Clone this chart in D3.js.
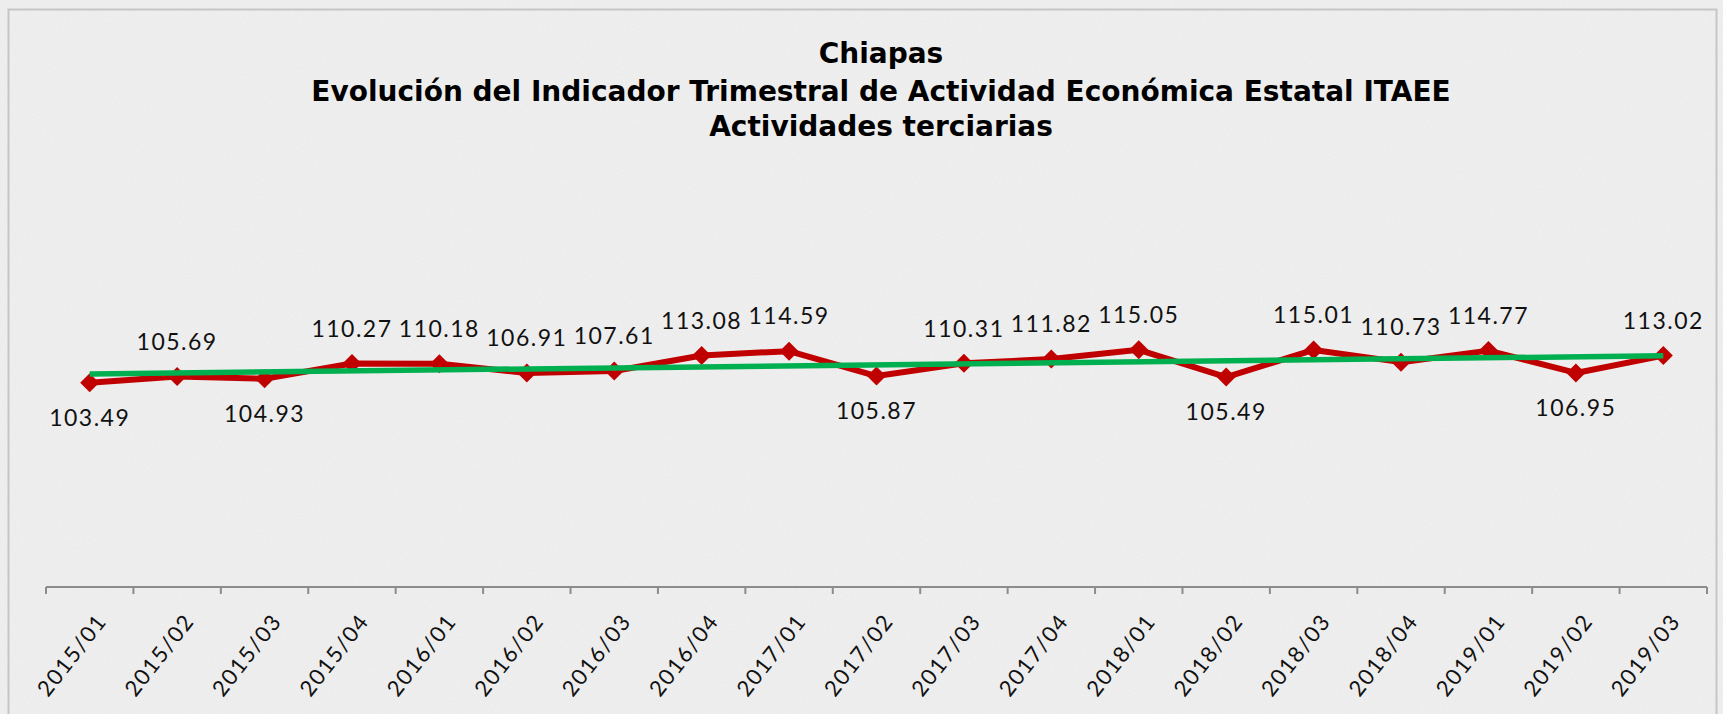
<!DOCTYPE html>
<html>
<head>
<meta charset="utf-8">
<script src="https://cdn.jsdelivr.net/npm/d3@7"></script>
<style>
  html, body { margin: 0; padding: 0; background: #efefef; }
  svg { display: block; }
</style>
</head>
<body>
<svg id="chart" width="1723" height="714"></svg>
<script>
// ---- data ----
const titleLines = [
  "Chiapas",
  "Evolución del Indicador Trimestral de Actividad Económica Estatal ITAEE",
  "Actividades terciarias"
];
const categories = ["2015/01","2015/02","2015/03","2015/04","2016/01","2016/02","2016/03","2016/04",
  "2017/01","2017/02","2017/03","2017/04","2018/01","2018/02","2018/03","2018/04",
  "2019/01","2019/02","2019/03"];
const values = [103.49,105.69,104.93,110.27,110.18,106.91,107.61,113.08,114.59,105.87,
  110.31,111.82,115.05,105.49,115.01,110.73,114.77,106.95,113.02];
const labelPositions = ["below","above","below","above","above","above","above","above",
  "above","below","above","above","above","below","above","above","above","below","above"];
const yDomain = [32, 150];

// ---- setup ----
const svg = d3.select("#chart");
const W = 1723, H = 714;

// textured background
const defs = svg.append("defs");
const f = defs.append("filter").attr("id","noise").attr("x",0).attr("y",0).attr("width","100%").attr("height","100%");
f.append("feTurbulence").attr("type","fractalNoise").attr("baseFrequency",0.9).attr("numOctaves",2).attr("seed",3).attr("result","n");
f.append("feColorMatrix").attr("type","matrix")
  .attr("values","0 0 0 0 0  0 0 0 0 0  0 0 0 0 0  0 0 0 0.09 0").attr("in","n").attr("result","a");
f.append("feComposite").attr("in","a").attr("in2","SourceGraphic").attr("operator","over");

svg.append("rect").attr("width",W).attr("height",H).attr("fill","#efefef");
svg.append("rect").attr("width",W).attr("height",H).attr("fill","#f2f2f2").attr("filter","url(#noise)");
svg.append("rect").attr("x",8.5).attr("y",9.5).attr("width",1708).attr("height",720)
  .attr("fill","none").attr("stroke","#c6c6c6").attr("stroke-width",2);

// title
svg.append("g").selectAll("text").data(titleLines).join("text")
  .attr("x", 881)
  .attr("y", (d,i) => [63,101,136][i])
  .attr("text-anchor","middle")
  .attr("font-family","'DejaVu Sans', sans-serif")
  .attr("font-weight",700)
  .attr("font-size",28)
  .attr("fill","#000")
  .text(d => d);

// scales
const x = d3.scaleBand().domain(categories).range([46, 1707]).padding(0);
const y = d3.scaleLinear().domain(yDomain).range([587, 250]);
const cx = d => x(d) + x.bandwidth()/2;

// axis
const axisG = svg.append("g");
axisG.append("line").attr("x1", x.range()[0]).attr("x2", x.range()[1])
  .attr("y1", y(yDomain[0])).attr("y2", y(yDomain[0]))
  .attr("stroke","#8c8c8c").attr("stroke-width",2);
const tickXs = categories.map(c => x(c)).concat([x.range()[1]]);
axisG.selectAll("line.tick").data(tickXs).join("line").attr("class","tick")
  .attr("x1", d => d).attr("x2", d => d)
  .attr("y1", y(yDomain[0])).attr("y2", y(yDomain[0]) + 7)
  .attr("stroke","#8c8c8c").attr("stroke-width",2);
axisG.selectAll("text").data(categories).join("text")
  .attr("transform", d => `translate(${cx(d)+6},${y(yDomain[0]) + 25}) rotate(-52)`)
  .attr("text-anchor","end")
  .attr("dy","0.7em")
  .attr("font-family","Lato, sans-serif")
  .attr("font-size",22)
  .attr("letter-spacing","1.5px")
  .attr("fill","#111")
  .text(d => d);

// trend line (linear least squares of the series)
const n = values.length;
const idx = d3.range(n);
const mx = d3.mean(idx), my = d3.mean(values);
const slope = d3.sum(idx, i => (i-mx)*(values[i]-my)) / d3.sum(idx, i => (i-mx)*(i-mx));
const icpt = my - slope*mx;

// series line
const line = d3.line().x((d,i) => cx(categories[i])).y(d => y(d));
svg.append("path").datum(values).attr("d", line)
  .attr("fill","none").attr("stroke","#c00000").attr("stroke-width",6).attr("stroke-linejoin","round");

// markers
const s = 9.5;
svg.append("g").selectAll("path").data(values).join("path")
  .attr("d", (d,i) => {
    const px = cx(categories[i]), py = y(d);
    return `M${px},${py-s}L${px+s},${py}L${px},${py+s}L${px-s},${py}Z`;
  })
  .attr("fill","#c00000");

// trend line drawn on top
svg.append("line")
  .attr("x1", cx(categories[0])).attr("y1", y(icpt))
  .attr("x2", cx(categories[n-1])).attr("y2", y(icpt + slope*(n-1)))
  .attr("stroke","#00b050").attr("stroke-width",5.5);

// data labels
svg.append("g").selectAll("text").data(values).join("text")
  .attr("x", (d,i) => cx(categories[i]))
  .attr("y", (d,i) => y(d) + (labelPositions[i] === "above" ? -35 : 35) + 8.3)
  .attr("text-anchor","middle")
  .attr("font-family","Lato, sans-serif")
  .attr("font-size",23)
  .attr("letter-spacing","1.5px")
  .attr("fill","#111")
  .text(d => d.toFixed(2));
</script>
</body>
</html>
